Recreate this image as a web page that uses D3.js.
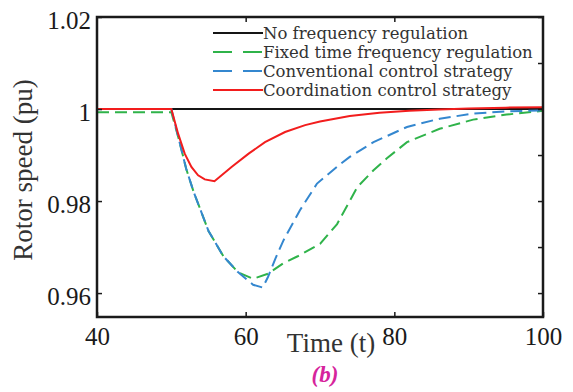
<!DOCTYPE html>
<html>
<head>
<meta charset="utf-8">
<script src="https://cdn.jsdelivr.net/npm/d3@7"></script>
<style>
  body { margin: 0; background: #fff; }
  svg { display: block; font-family: "Liberation Serif", "DejaVu Serif", serif; }
</style>
</head>
<body>
<div id="chart"></div>
<script>
// values
const xTicks = [40, 60, 80, 100];
const yTicks = [0.96, 0.98, 1, 1.02];
const yTickLabels = ["0.96", "0.98", "1", "1.02"];
const yMinorTicks = [0.96, 0.97, 0.98, 0.99, 1, 1.01, 1.02];

const seriesNames = [
    "No frequency regulation",
    "Fixed time frequency regulation",
    "Conventional control strategy",
    "Coordination control strategy"
];

const timeNoReg = [40, 100];
const speedNoReg = [1, 1];

const timeFixed = [40, 50, 51, 52, 53, 55, 57, 59, 61, 63, 65, 67, 70, 72.3, 74, 75, 77.2, 79, 81.7, 86.1, 90.6, 95.1, 100];
const speedFixed = [0.9993, 0.9993, 0.9935, 0.987, 0.982, 0.9735, 0.968, 0.9645, 0.9631, 0.9642, 0.9664, 0.968, 0.9707, 0.975, 0.980, 0.983, 0.9867, 0.9893, 0.9928, 0.9957, 0.9977, 0.9988, 0.9996];

const timeConv = [40, 50, 51, 52, 53, 55, 57, 59, 61, 62.3, 63, 64, 65.1, 67.3, 69.6, 72.7, 74, 77.2, 81.7, 86.1, 90.6, 95, 100];
const speedConv = [1, 1, 0.9935, 0.987, 0.982, 0.9735, 0.968, 0.9645, 0.9618, 0.9612, 0.9635, 0.9675, 0.9715, 0.978, 0.9838, 0.988, 0.9896, 0.9928, 0.9961, 0.9979, 0.999, 0.9995, 0.9997];

const timeCoord = [40, 50, 50.9, 51.8, 52.7, 53.6, 54.5, 55.8, 58.1, 60.4, 62.6, 65.3, 68, 70, 74, 78, 82, 86, 90, 95, 100];
const speedCoord = [1, 1, 0.9947, 0.9903, 0.9874, 0.9856, 0.9847, 0.9843, 0.9874, 0.9903, 0.9928, 0.995, 0.9965, 0.9973, 0.9985, 0.9992, 0.9996, 0.9999, 1.0001, 1.0003, 1.0004];

const margin = {top: 17, right: 30, bottom: 75, left: 97},
    width = 573 - margin.left - margin.right,
    height = 392 - margin.top - margin.bottom;

const svg = d3.select("#chart")
    .append("svg")
    .attr("width", 573).attr("height", 392)
    .append("g")
    .attr("transform", `translate(${margin.left},${margin.top})`);

const x = d3.scaleLinear().domain([40, 100]).range([0, width]);
const y = d3.scaleLinear().domain([0.9548, 1.02]).range([height, 0]);

const series = [
    {t: timeNoReg, v: speedNoReg, color: "#151515", dash: null},
    {t: timeFixed, v: speedFixed, color: "#2fb34a", dash: "12,6"},
    {t: timeConv, v: speedConv, color: "#3487cf", dash: "12,6"},
    {t: timeCoord, v: speedCoord, color: "#f21d1d", dash: null}
];

const line = d3.line()
    .x(d => x(d[0]))
    .y(d => y(d[1]));

series.forEach(s => {
    svg.append("path")
        .datum(s.t.map((t, i) => [t, s.v[i]]))
        .attr("fill", "none")
        .attr("stroke", s.color)
        .attr("stroke-width", 2)
        .attr("stroke-dasharray", s.dash)
        .attr("d", line);
});

// axes: inward ticks
svg.append("g")
    .attr("transform", `translate(0,${height})`)
    .call(d3.axisBottom(x).tickValues(xTicks).tickSizeInner(-5).tickSizeOuter(0).tickPadding(10));

svg.append("g")
    .call(d3.axisTop(x).tickValues([60, 80]).tickSizeInner(-5).tickSizeOuter(0).tickFormat(""));

const left = svg.append("g")
    .call(d3.axisLeft(y).tickValues(yTicks).tickSizeInner(-5).tickSizeOuter(0).tickPadding(6)
        .tickFormat((d, i) => yTickLabels[i]));
left.selectAll("text").attr("dy", "0.45em");

svg.append("g")
    .attr("transform", `translate(${width},0)`)
    .call(d3.axisRight(y).tickValues(yMinorTicks).tickSizeInner(-5).tickSizeOuter(0).tickFormat(""));

svg.selectAll(".tick text")
    .style("font-family", "'Liberation Serif', serif")
    .style("font-size", "25px")
    .attr("fill", "#1a1a1a");
svg.selectAll(".domain").remove();
svg.selectAll(".tick line").attr("stroke", "#1a1a1a").attr("stroke-width", 1.5);

svg.append("rect")
    .attr("width", width).attr("height", height)
    .attr("fill", "none")
    .attr("stroke", "#1a1a1a")
    .attr("stroke-width", 2.5);

// legend
const legend = svg.append("g").attr("transform", "translate(116,16)");
series.forEach((s, i) => {
    const row = legend.append("g").attr("transform", `translate(0,${i * 19})`);
    row.append("line")
        .attr("x1", 0).attr("x2", 50)
        .attr("stroke", s.color)
        .attr("stroke-width", 2)
        .attr("stroke-dasharray", s.dash ? "19,11" : null);
    row.append("text")
        .attr("x", 50)
        .attr("dy", "0.35em")
        .style("font-family", "'DejaVu Serif', serif")
        .style("font-size", "16.5px")
        .attr("fill", "#333")
        .text(seriesNames[i]);
});

svg.append("text")
    .attr("x", 331 - margin.left)
    .attr("y", height + 35)
    .attr("text-anchor", "middle")
    .style("font-size", "27px")
    .attr("fill", "#333")
    .text("Time (t)");

svg.append("text")
    .attr("transform", `translate(${32 - margin.left},${170 - margin.top}) rotate(-90)`)
    .attr("text-anchor", "middle")
    .style("font-size", "27px")
    .attr("fill", "#333")
    .text("Rotor speed (pu)");

svg.append("text")
    .attr("x", 325 - margin.left)
    .attr("y", 382 - margin.top)
    .attr("text-anchor", "middle")
    .style("font-size", "23px")
    .style("font-style", "italic")
    .style("font-weight", "bold")
    .attr("fill", "#d6249c")
    .text("(b)");
</script>
</body>
</html>
